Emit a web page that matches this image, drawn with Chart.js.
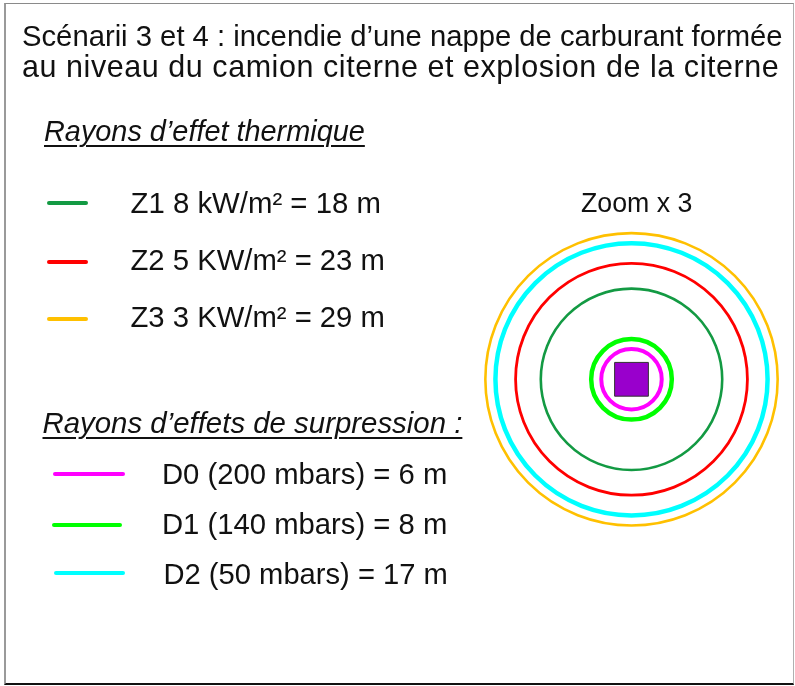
<!DOCTYPE html>
<html>
<head>
<meta charset="utf-8">
<script src="https://cdn.jsdelivr.net/npm/chart.js@4"></script>
<style>
  body { margin: 0; background: #fff; }
  #page { position: relative; width: 795px; height: 686px; overflow: hidden; background: #fff; }
  #frame {
    position: absolute; left: 4px; top: 3px; width: 790px; height: 682px; box-sizing: border-box;
    border-left: 2px solid #9a9a9a; border-top: 1px solid #8a8a8a;
    border-right: 1px solid #b0b0b0; border-bottom: 2px solid #111;
  }
  #chartBox { position: absolute; left: 0; top: 0; width: 795px; height: 686px; }
  .txt {
    position: absolute; white-space: nowrap; color: #111;
    font-family: "Liberation Sans", Arial, Helvetica, sans-serif;
  }
  .swatch { position: absolute; height: 4px; border-radius: 2px; }
</style>
</head>
<body>
<div id="page">
  <div id="chartBox"><canvas id="zoneChart" width="795" height="686"></canvas></div>
  <div id="frame"></div>
</div>
<script>
// --- data ---
const titleLines = [
  "Scénarii 3 et 4 : incendie d’une nappe de carburant formée",
  "au niveau du camion citerne et explosion de la citerne"
];
const thermalHeading = "Rayons d’effet thermique";
const pressureHeading = "Rayons d’effets de surpression :";
const zoomLabel = "Zoom x 3";

const thermalLabels = ["Z1 8 kW/m² = 18 m", "Z2 5 KW/m² = 23 m", "Z3 3 KW/m² = 29 m"];
const thermalRadii = [18, 23, 29];            // metres
const pressureLabels = ["D0 (200 mbars) = 6 m", "D1 (140 mbars) = 8 m", "D2 (50 mbars) = 17 m"];
const pressureRadii = [6, 8, 27];             // metres, as drawn (cyan ring sits just inside Z3)
const tankSide = 6.7;                         // metres, purple square

// --- styles ---
const thermalColors = ["#139a43", "#ff0000", "#ffc000"];
const pressureColors = ["#ff00ff", "#00ff00", "#00ffff"];
const thermalWidths = [2.6, 2.8, 2.6];
const pressureWidths = [4, 4.5, 4.5];

const pxPerMetre = 5.04;
const centreX = 631.5;
const centreY = 379.3;
const W = 795, H = 686;

const page = document.getElementById("page");

// text is sized so its width matches the figure, then set on its baseline.
// sizeHint (optional) pulls the size toward another size; letter spacing takes the rest
function placeText(text, x, baseline, size, inkWidth, extra, sizeHint) {
  const el = document.createElement("div");
  el.className = "txt";
  el.textContent = text;
  Object.assign(el.style, extra || {});
  el.style.fontSize = size + "px";
  el.style.left = x + "px";
  page.appendChild(el);
  const w = el.getBoundingClientRect().width;
  let fs = inkWidth ? size * inkWidth / w : size;
  if (sizeHint) {
    fs = (fs + sizeHint) / 2;
    const w2 = w * fs / size;
    el.style.letterSpacing = ((inkWidth - w2) / (text.length - 1)) + "px";
  }
  el.style.fontSize = fs + "px";
  el.style.lineHeight = fs + "px";
  el.style.top = (baseline - 0.8465 * fs) + "px";
  return fs;
}

function placeSwatch(color, x1, x2, y) {
  const el = document.createElement("div");
  el.className = "swatch";
  el.style.background = color;
  el.style.left = x1 + "px";
  el.style.width = (x2 - x1) + "px";
  el.style.top = (y - 2) + "px";
  page.appendChild(el);
}

// title
const titleSize = placeText(titleLines[0], 22, 46.7, 26.5, 761);
placeText(titleLines[1], 22, 76.7, 26.5, 757, null, titleSize);

// headings
const headStyle = {
  fontStyle: "italic", textDecoration: "underline",
  textDecorationThickness: "1.5px", textUnderlineOffset: "3.5px"
};
placeText(thermalHeading, 44, 141.7, 23, 321, headStyle);
placeText(pressureHeading, 42.5, 433.3, 23, 420, headStyle);

// thermal legend
const thermalRows = [213.3, 270.7, 327.3];
const thermalEnds = [381, 385, 385];
const thermalSw = [202.7, 262.3, 319.3];
thermalLabels.forEach((lab, i) => {
  placeSwatch(thermalColors[i], 46.7, 88.3, thermalSw[i]);
  placeText(lab, 130.5, thermalRows[i], 23, thermalEnds[i] - 130.5);
});

// pressure legend
const pressureRows = [484.3, 535, 584.3];
const pressureX = [162, 162, 163.5];
const pressureEnds = [447.5, 447.5, 448];
const pressureSw = [[53.3, 125, 474], [51.7, 121.7, 525], [54.3, 125, 573.3]];
pressureLabels.forEach((lab, i) => {
  placeSwatch(pressureColors[i], pressureSw[i][0], pressureSw[i][1], pressureSw[i][2]);
  placeText(lab, pressureX[i], pressureRows[i], 23, pressureEnds[i] - pressureX[i]);
});

placeText(zoomLabel, 581, 212.7, 24.5, 111.5);

// --- circles: one point per zone at the tank, radius taken from the scale ---
function metresToPx(chart, m) {
  const s = chart.scales.x;
  return Math.abs(s.getPixelForValue(m) - s.getPixelForValue(0));
}

function ring(radius, color, width) {
  return {
    data: [{ x: 0, y: 0 }],
    pointStyle: "circle",
    pointRadius: (ctx) => metresToPx(ctx.chart, radius),
    pointBorderColor: color,
    pointBorderWidth: width,
    pointBackgroundColor: "rgba(0,0,0,0)",
    clip: false
  };
}

const datasets = [
  {
    data: [{ x: 0, y: 0 }],
    pointStyle: "rect",
    pointRadius: (ctx) => metresToPx(ctx.chart, tankSide) * Math.SQRT1_2,
    pointBackgroundColor: "#9900cc",
    pointBorderColor: "#333",
    pointBorderWidth: 1,
    clip: false
  }
];
pressureRadii.forEach((r, i) => datasets.push(ring(r, pressureColors[i], pressureWidths[i])));
thermalRadii.forEach((r, i) => datasets.push(ring(r, thermalColors[i], thermalWidths[i])));

new Chart(document.getElementById("zoneChart"), {
  type: "scatter",
  data: { datasets },
  options: {
    responsive: false,
    animation: false,
    events: [],
    layout: { padding: 0 },
    plugins: { legend: { display: false }, tooltip: { enabled: false }, title: { display: false } },
    scales: {
      x: { type: "linear", display: false, min: -centreX / pxPerMetre, max: (W - centreX) / pxPerMetre },
      y: { type: "linear", display: false, min: -(H - centreY) / pxPerMetre, max: centreY / pxPerMetre }
    }
  }
});
</script>
</body>
</html>
